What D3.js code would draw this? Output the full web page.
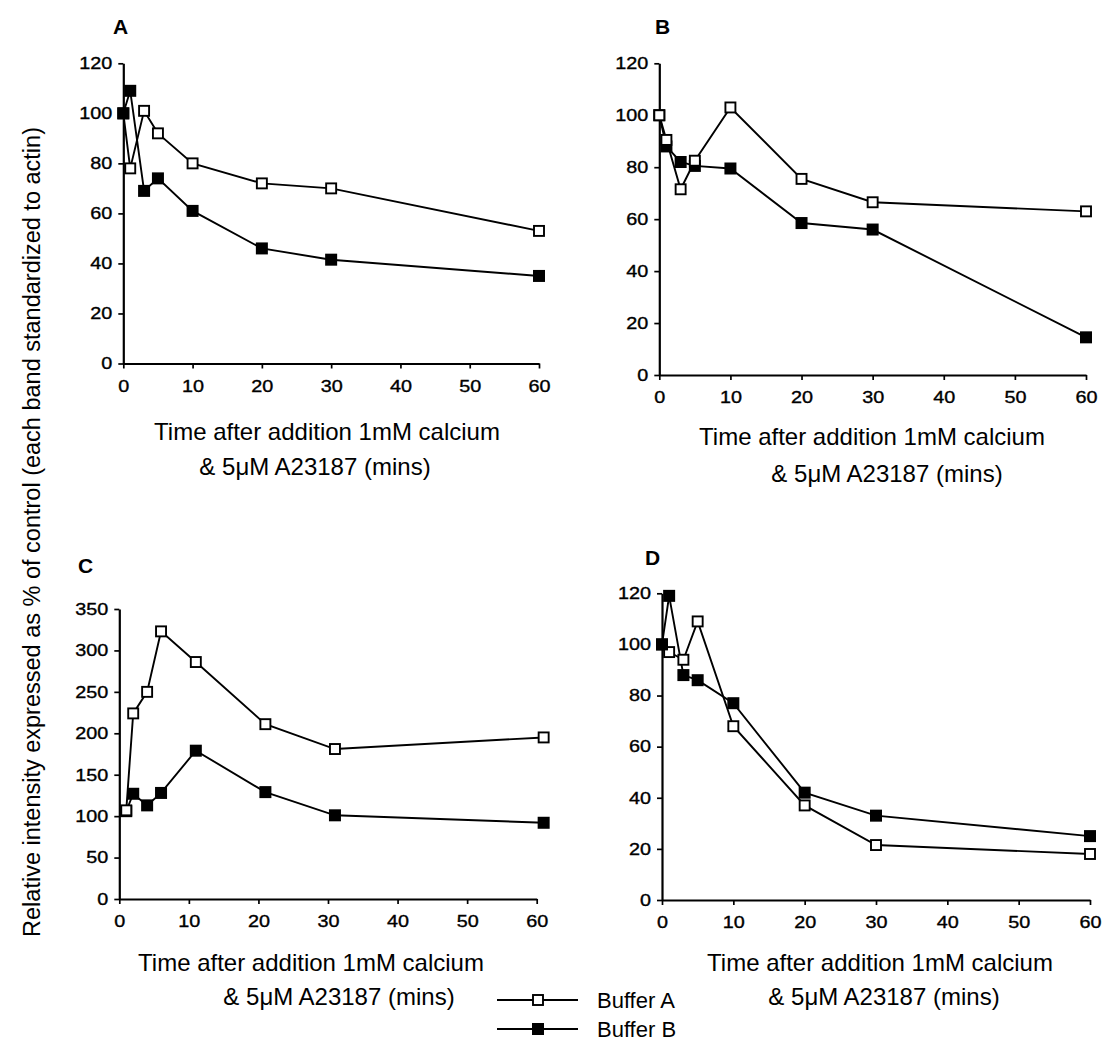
<!DOCTYPE html>
<html>
<head>
<meta charset="utf-8">
<script src="https://cdn.jsdelivr.net/npm/d3@7"></script>
<style>
  html, body { margin: 0; padding: 0; background: #fff; }
  svg { display: block; }
  text { font-family: "Liberation Sans", Arial, Helvetica, sans-serif; fill: #000; }
</style>
</head>
<body>
<svg id="chart" width="1116" height="1043"></svg>
<script>
// Sampling times (minutes) after calcium / ionophore addition
const times = [0, 1, 3, 5, 10, 20, 30, 60];
const timesC = [1, 2, 4, 6, 11, 21, 31, 61];

// Relative band intensity, % of control
const aBufferA = [100, 78, 101, 92, 80, 72, 70, 53];
const aBufferB = [100, 109, 69, 74, 61, 46, 41.5, 35];
const bBufferA = [100, 90.5, 71.5, 82.5, 103, 75.5, 66.5, 63];
const bBufferB = [100, 88, 82, 80.5, 79.5, 58.5, 56, 14.5];
const cBufferA = [107, 224, 250, 323, 286, 211, 181, 195];
const cBufferB = [106, 127, 113, 128, 179, 129, 101, 92];
const dBufferA = [100, 97, 94, 109, 68, 37, 21.5, 18];
const dBufferB = [100, 119, 88, 86, 77, 42, 33, 25];

// Tick values
const xTicks = [0, 10, 20, 30, 40, 50, 60];
const yTicks120 = [0, 20, 40, 60, 80, 100, 120];
const yTicks350 = [0, 50, 100, 150, 200, 250, 300, 350];

const seriesNames = ["Buffer A", "Buffer B"];
const xTitle1 = "Time after addition 1mM calcium";
const xTitle2 = "& 5\u03bcM A23187 (mins)";
const yTitle = "Relative intensity expressed as % of control (each band standardized to actin)";

const svg = d3.select("#chart");

const panels = [
  { name: "A", t: times, open: aBufferA, filled: aBufferB, yMax: 120, yTicks: yTicks120,
    xr: [123.3, 539], yr: [363.5, 63.3], filledOnTop: true,
    label: [113, 34], t1: [327, 440], t2: [315, 475] },
  { name: "B", t: times, open: bBufferA, filled: bBufferB, yMax: 120, yTicks: yTicks120,
    xr: [659.3, 1086], yr: [375, 63.3], filledOnTop: false,
    label: [655, 34], t1: [872, 445], t2: [887, 482] },
  { name: "C", t: timesC, open: cBufferA, filled: cBufferB, yMax: 350, yTicks: yTicks350,
    xr: [119.3, 536.7], yr: [899, 609], filledOnTop: false,
    label: [78, 573], t1: [311, 971], t2: [339, 1005] },
  { name: "D", t: times, open: dBufferA, filled: dBufferB, yMax: 120, yTicks: yTicks120,
    xr: [662, 1090], yr: [900, 593.3], filledOnTop: true,
    label: [645, 565], t1: [880, 971], t2: [884, 1005] }
];

const TICK_SCALE = 1.2;

function drawMarker(sel, x, y, filled) {
  if (filled) {
    sel.append("rect").attr("x", x - 6).attr("y", y - 6)
      .attr("width", 12).attr("height", 12).attr("fill", "#000");
  } else {
    sel.append("rect").attr("x", x - 5).attr("y", y - 5)
      .attr("width", 10).attr("height", 10)
      .attr("fill", "#fff").attr("stroke", "#000").attr("stroke-width", 1.9);
  }
}

panels.forEach(p => {
  const x = d3.scaleLinear().domain([0, 60]).range(p.xr);
  const y = d3.scaleLinear().domain([0, p.yMax]).range(p.yr);
  const g = svg.append("g");

  // axes
  const xAxis = d3.axisBottom(x).tickValues(xTicks).tickSize(5).tickSizeOuter(0).tickPadding(6);
  const yAxis = d3.axisLeft(y).tickValues(p.yTicks).tickSize(5).tickSizeOuter(0).tickPadding(6);

  const gx = g.append("g").attr("transform", `translate(0,${p.yr[0]})`).call(xAxis);
  const gy = g.append("g").attr("transform", `translate(${p.xr[0]},0)`).call(yAxis);

  [gx, gy].forEach(ax => {
    ax.select(".domain").attr("stroke", "#000").attr("stroke-width", 2.2);
    ax.selectAll(".tick line").attr("stroke", "#000").attr("stroke-width", 1.7);
    ax.selectAll(".tick text")
      .style("font-family", "'Liberation Sans', Arial, sans-serif")
      .attr("font-size", 16.5)
      .attr("stroke", "#000").attr("stroke-width", 0.35);
  });
  gx.selectAll(".tick text").attr("dy", "1.05em")
    .attr("transform", `scale(${TICK_SCALE},1)`);
  gy.selectAll(".tick text").attr("x", -11 / TICK_SCALE)
    .attr("transform", `scale(${TICK_SCALE},1)`);

  // series lines
  const line = d3.line().x(d => x(d[0])).y(d => y(d[1]));
  const openPts = p.t.map((t, i) => [t, p.open[i]]);
  const filledPts = p.t.map((t, i) => [t, p.filled[i]]);

  const order = p.filledOnTop
    ? [[openPts, false], [filledPts, true]]
    : [[filledPts, true], [openPts, false]];

  order.forEach(([pts]) => {
    g.append("path").datum(pts).attr("d", line)
      .attr("fill", "none").attr("stroke", "#000").attr("stroke-width", 1.9);
  });
  order.forEach(([pts, filled]) => {
    const mg = g.append("g");
    pts.forEach(d => drawMarker(mg, x(d[0]), y(d[1]), filled));
  });

  // panel letter
  g.append("text").attr("x", p.label[0]).attr("y", p.label[1])
    .attr("font-size", 21).attr("font-weight", "bold").text(p.name);

  // x axis title
  g.append("text").attr("x", p.t1[0]).attr("y", p.t1[1])
    .attr("text-anchor", "middle").attr("font-size", 24).text(xTitle1);
  g.append("text").attr("x", p.t2[0]).attr("y", p.t2[1])
    .attr("text-anchor", "middle").attr("font-size", 24).text(xTitle2);
});

// shared y axis title
svg.append("text")
  .attr("transform", "translate(40,532) rotate(-90)")
  .attr("text-anchor", "middle").attr("font-size", 23.5)
  .text(yTitle);

// legend
const legend = svg.append("g");
const legendY = [1000, 1029];
seriesNames.forEach((name, i) => {
  const ly = legendY[i];
  legend.append("line").attr("x1", 497).attr("x2", 578).attr("y1", ly).attr("y2", ly)
    .attr("stroke", "#000").attr("stroke-width", 1.9);
  drawMarker(legend, 538, ly, i === 1);
  legend.append("text").attr("x", 597).attr("y", ly + 8)
    .attr("font-size", 22).text(name);
});
</script>
</body>
</html>
